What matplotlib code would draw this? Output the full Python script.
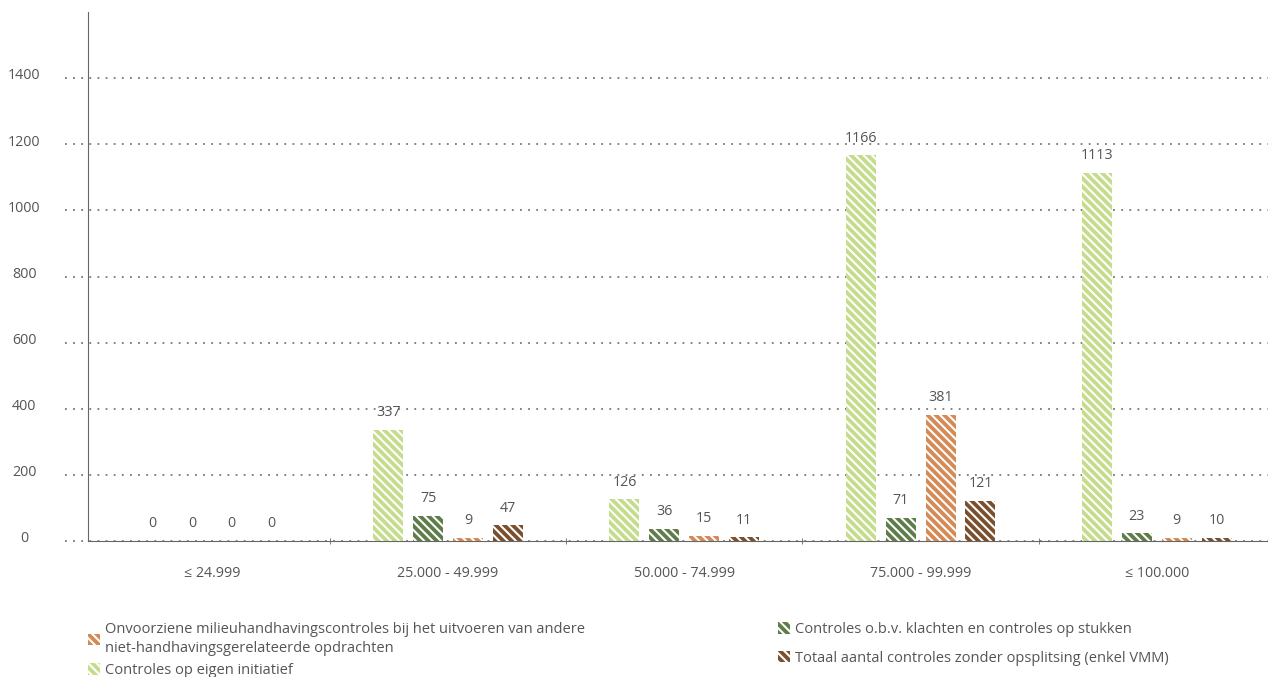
import matplotlib.pyplot as plt
import matplotlib.transforms as mtransforms
import numpy as np

plt.rcParams["font.family"] = ["Open Sans", "DejaVu Sans"]
plt.rcParams["hatch.color"] = "white"
plt.rcParams["hatch.linewidth"] = 1.5

categories = ["≤ 24.999", "25.000 - 49.999", "50.000 - 74.999", "75.000 - 99.999", "≤ 100.000"]

eigen_initiatief = [0, 337, 126, 1166, 1113]
klachten = [0, 75, 36, 71, 23]
onvoorzien = [0, 9, 15, 381, 9]
totaal_vmm = [0, 47, 11, 121, 10]

series = [
    ("Controles op eigen initiatief", eigen_initiatief, "#c4dc8c"),
    ("Controles o.b.v. klachten en controles op stukken", klachten, "#5f7d4a"),
    ("Onvoorziene milieuhandhavingscontroles bij het uitvoeren van andere\n"
     "niet-handhavingsgerelateerde opdrachten", onvoorzien, "#d58a55"),
    ("Totaal aantal controles zonder opsplitsing (enkel VMM)", totaal_vmm, "#7a4f2d"),
]

text_col = "#555555"
axis_col = "#666666"
fs = 10.3


def plot():
    fig = plt.figure(figsize=(12.68, 6.77), dpi=100)
    ax = fig.add_axes([88 / 1268, 1 - 541 / 677, 1187 / 1268, 529 / 677])

    x = np.arange(1, len(categories) + 1)
    width = 0.127
    step = 0.169
    offsets = (np.arange(4) - 1.5) * step

    bars = {}
    for (name, vals, col), off in zip(series, offsets):
        b = ax.bar(x + off, vals, width, color=col, hatch="\\\\\\\\",
                   edgecolor="white", linewidth=0, label=name, zorder=3)
        bars[name] = b
        for xi, v in zip(x + off, vals):
            ax.annotate(str(v), (xi, v), xytext=(0, 7), textcoords="offset points",
                        ha="center", va="bottom", fontsize=fs, color=text_col)

    ax.set_xlim(0.476, len(categories) + 0.5)
    ax.set_ylim(0, 1600)

    # dotted gridlines, reaching a bit left of the axis
    trans = mtransforms.blended_transform_factory(ax.transAxes, ax.transData)
    for yv in range(0, 1600, 200):
        ax.plot([-23 / 1187, 1], [yv, yv], transform=trans, clip_on=False,
                color="#777777", lw=1.3, ls=(0, (1, 3.5)), zorder=1)

    ax.set_yticks(range(0, 1600, 200))
    ax.tick_params(axis="y", length=0, pad=46, labelsize=fs, labelcolor=text_col)
    for lab in ax.get_yticklabels():
        lab.set_horizontalalignment("center")
        lab.set_transform(lab.get_transform() + mtransforms.ScaledTranslation(0, 3 / 72, fig.dpi_scale_trans))

    ax.set_xticks(x)
    ax.set_xticklabels(categories)
    ax.set_xticks(np.arange(1.5, len(categories), 1), minor=True)
    ax.tick_params(axis="x", which="major", length=0, pad=18, labelsize=fs, labelcolor=text_col)
    ax.tick_params(axis="x", which="minor", length=5, direction="inout", color=axis_col)

    for s in ["top", "right"]:
        ax.spines[s].set_visible(False)
    ax.spines["left"].set_color(axis_col)
    ax.spines["bottom"].set_color(axis_col)
    ax.spines["left"].set_zorder(4)
    ax.spines["bottom"].set_zorder(4)

    h = [bars[s[0]] for s in series]
    leg_kw = dict(frameon=False, fontsize=10.5, handlelength=0.8, handleheight=0.8,
                  handletextpad=0.35, labelcolor=text_col, borderaxespad=0, borderpad=0)
    leg1 = fig.legend([h[2], h[0]], [series[2][0], series[0][0]], loc="upper left",
                      bbox_to_anchor=(88 / 1268, 1 - 622 / 677), labelspacing=0.5, **leg_kw)
    for t in leg1.get_texts():
        t.set_linespacing(1.35)
    fig.legend([h[1], h[3]], [series[1][0], series[3][0]], loc="upper left",
               bbox_to_anchor=(778 / 1268, 1 - 622 / 677), labelspacing=0.95, **leg_kw)

    plt.savefig("out.png", dpi=100)


if __name__ == "__main__":
    plot()
